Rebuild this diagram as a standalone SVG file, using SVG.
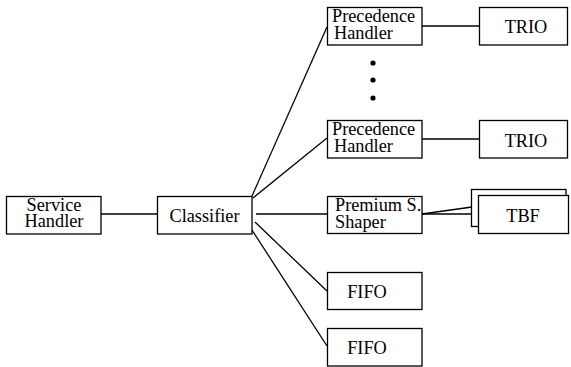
<svg xmlns="http://www.w3.org/2000/svg" width="571" height="367" viewBox="0 0 571 367">
<style>
.box{fill:#fff;stroke:#000;stroke-width:1.3}
.t{font-family:'Liberation Serif','Times New Roman',Times,serif;font-size:18.3px;fill:#000}
.c{text-anchor:middle}
.ln{stroke:#000;stroke-width:1.3;fill:none}
</style>
<rect width="571" height="367" fill="#fff"/>
<g id="connectors">
<line class="ln" x1="101" y1="214" x2="157" y2="214"/>
<line class="ln" x1="252" y1="196" x2="327" y2="27"/>
<line class="ln" x1="253" y1="198" x2="327" y2="138"/>
<line class="ln" x1="256" y1="214" x2="327" y2="214"/>
<line class="ln" x1="255" y1="222" x2="327" y2="291"/>
<line class="ln" x1="252" y1="230" x2="327" y2="346"/>
<line class="ln" x1="422" y1="26" x2="479" y2="26"/>
<line class="ln" x1="422" y1="139" x2="479" y2="139"/>
<line class="ln" x1="422" y1="214" x2="478" y2="214"/>
<line class="ln" x1="422" y1="214" x2="472" y2="207"/>
</g>
<g id="service-handler">
<rect class="box" x="6.5" y="196.5" width="94.5" height="37.5"/>
<text class="t c" x="54" y="211">Service<tspan x="54" dy="16">Handler</tspan></text>
</g>
<g id="classifier">
<rect class="box" x="157.5" y="196.5" width="94.5" height="37.5"/>
<text class="t c" x="204.5" y="222">Classifier</text>
</g>
<g id="precedence-handler-1">
<rect class="box" x="327.5" y="7.5" width="94.5" height="37.5"/>
<text class="t" x="332" y="22">Precedence<tspan x="334" dy="17">Handler</tspan></text>
</g>
<g id="trio-1">
<rect class="box" x="479.5" y="7.5" width="88" height="37.5"/>
<text class="t c" x="526" y="33">TRIO</text>
</g>
<g id="dots">
<circle cx="373" cy="63" r="2.6"/>
<circle cx="373" cy="80" r="2.6"/>
<circle cx="373" cy="98" r="2.6"/>
</g>
<g id="precedence-handler-2">
<rect class="box" x="327.5" y="120.5" width="94.5" height="37.5"/>
<text class="t" x="332" y="135">Precedence<tspan x="334" dy="17">Handler</tspan></text>
</g>
<g id="trio-2">
<rect class="box" x="479.5" y="120.5" width="88" height="37.5"/>
<text class="t c" x="526" y="147">TRIO</text>
</g>
<g id="premium-shaper">
<rect class="box" x="327.5" y="196.5" width="94.5" height="37"/>
<text class="t" x="335" y="211">Premium S.<tspan x="335" dy="17">Shaper</tspan></text>
</g>
<g id="tbf">
<rect class="box" x="471.5" y="189.5" width="94.5" height="37"/>
<rect class="box" x="478.5" y="195.5" width="90" height="38"/>
<text class="t c" x="523" y="222">TBF</text>
</g>
<g id="fifo-1">
<rect class="box" x="327.5" y="272.5" width="94.5" height="37"/>
<text class="t c" x="367" y="298">FIFO</text>
</g>
<g id="fifo-2">
<rect class="box" x="327.5" y="328.5" width="94.5" height="37.5"/>
<text class="t c" x="367" y="354">FIFO</text>
</g>
</svg>
